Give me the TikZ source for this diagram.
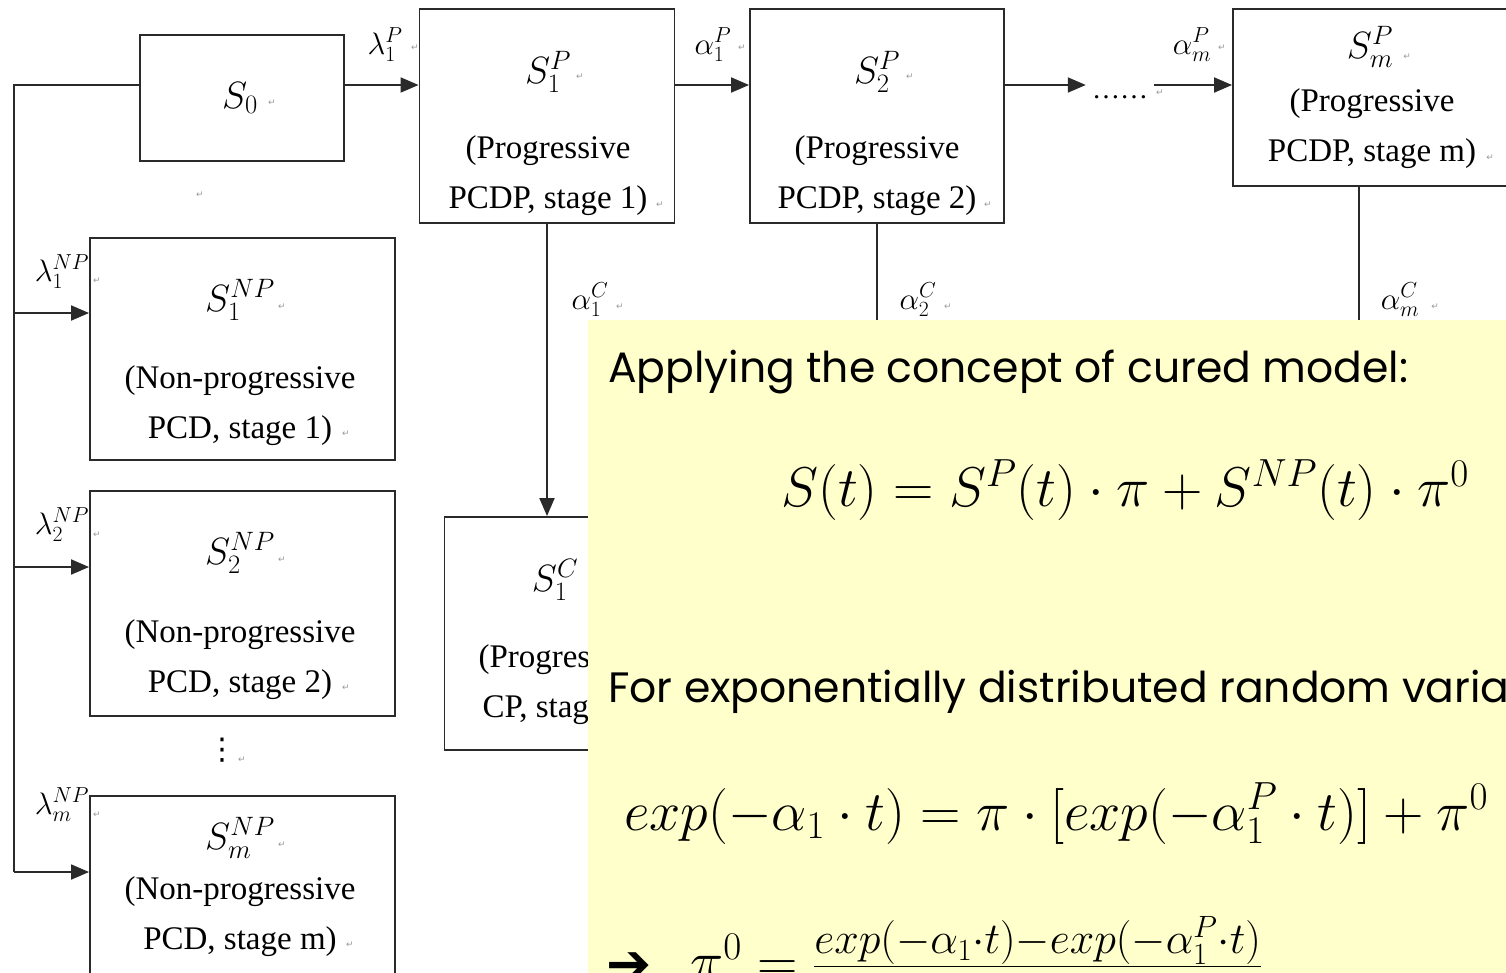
\RequirePackage{fix-cm}
\documentclass[tikz,border=0pt]{standalone}
\usepackage{amsmath}
\usepackage{fontspec}
\usetikzlibrary{arrows.meta}
\newfontfamily\diagfont{Liberation Serif}
\newfontfamily\slidefont{Poppins}
\newfontfamily\symbfont{DejaVu Sans}
\definecolor{slideyellow}{HTML}{FFFFCC}
\definecolor{boxline}{HTML}{2A2A2A}
\begin{document}
\begin{tikzpicture}[x=1pt,y=-1pt,
  stagebox/.style={draw=boxline,line width=1.9pt,inner sep=0pt},
  wire/.style={draw=boxline,line width=1.9pt},
  flow/.style={wire,-{Triangle[length=18pt,width=15pt]}},
  boxtext/.style={font=\diagfont\fontsize{33}{50}\selectfont,align=center,inner sep=0pt},
  symb/.style={font=\fontsize{38}{44}\selectfont,inner sep=0pt},
  rate/.style={font=\fontsize{31}{36}\selectfont,inner sep=0pt},
  retmark/.style={font=\symbfont\fontsize{9}{10}\selectfont,text=black!40,inner sep=0pt},
  slidetext/.style={font=\slidefont\fontsize{42.5}{48}\selectfont,anchor=base west,inner sep=0pt},
  slidemath/.style={font=\fontsize{56}{60}\selectfont,inner sep=0pt}]
\useasboundingbox (0,0) rectangle (1506,972);
\clip (0,0) rectangle (1506,972);
% progressive chain
\node[stagebox,minimum width=204pt,minimum height=126pt] (s0) at (242,98) {};
\node[stagebox,minimum width=255pt,minimum height=214pt] (s1p) at (547,116) {};
\node[stagebox,minimum width=254pt,minimum height=214pt] (s2p) at (877,116) {};
\node[stagebox,minimum width=278pt,minimum height=177pt] (smp) at (1372,97.5) {};
\node[symb] (s0lab) at (240,98) {$S_0$};
\node[symb] (s1plab) at (548,72) {$S_1^P$};
\node[boxtext] (s1ptxt) at (548,176) {(Progressive\\PCDP, stage 1)};
\node[symb] (s2plab) at (877,72) {$S_2^P$};
\node[boxtext] (s2ptxt) at (877,176) {(Progressive\\PCDP, stage 2)};
\node[symb] (smplab) at (1370,47) {$S_m^P$};
\node[boxtext] (smptxt) at (1372,129) {(Progressive\\PCDP, stage m)};
\node[font=\diagfont\fontsize{28}{30}\selectfont,inner sep=6pt] (dots) at (1120,97) {……};
\coordinate (row) at (0,85);
\draw[flow] (s0.east |- row) -- (s1p.west |- row);
\draw[flow] (s1p.east |- row) -- (s2p.west |- row);
\draw[flow] (s2p.east |- row) -- (dots.west |- row);
\draw[flow] (dots.east |- row) -- (smp.west |- row);
\node[rate] (lam1p) at (385,45) {$\lambda_1^P$};
\node[rate] (alp1p) at (713,45) {$\alpha_1^P$};
\node[rate] (alpmp) at (1192,45) {$\alpha_m^P$};
% non-progressive branch
\node[stagebox,minimum width=305pt,minimum height=222pt] (np1) at (242.5,349) {};
\node[stagebox,minimum width=305pt,minimum height=225pt] (np2) at (242.5,603.5) {};
\node[stagebox,minimum width=305pt,minimum height=220pt] (npm) at (242.5,906) {};
\node[symb] (np1lab) at (240,300) {$S_1^{NP}$};
\node[boxtext] (np1txt) at (240,406) {(Non-progressive\\PCD, stage 1)};
\node[symb] (np2lab) at (240,553) {$S_2^{NP}$};
\node[boxtext] (np2txt) at (240,660) {(Non-progressive\\PCD, stage 2)};
\node[symb] (npmlab) at (240,838) {$S_m^{NP}$};
\node[boxtext] (npmtxt) at (240,917) {(Non-progressive\\PCD, stage m)};
\node[font=\symbfont\fontsize{30}{30}\selectfont,inner sep=0pt] (vdots) at (222,750) {⋮};
\coordinate (trunk) at (14,85);
\coordinate (b1) at (14,313);
\coordinate (b2) at (14,567);
\coordinate (b3) at (14,872);
\draw[wire] (s0.west |- trunk) -- (trunk) -- (b3);
\draw[flow] (b1) -- (np1.west |- b1);
\draw[flow] (b2) -- (np2.west |- b2);
\draw[flow] (b3) -- (npm.west |- b3);
\node[rate] (lam1np) at (62,272) {$\lambda_1^{NP}$};
\node[rate] (lam2np) at (62,525) {$\lambda_2^{NP}$};
\node[rate] (lammnp) at (62,805) {$\lambda_m^{NP}$};
% cured branch
\node[stagebox,minimum width=255pt,minimum height=233pt] (s1c) at (572,633.5) {};
\node[symb] (s1clab) at (555,580) {$S_1^C$};
\node[boxtext] (s1ctxt) at (561,685) {(Progressive\\CP, stage 1)};
\draw[flow] (s1p.south) -- (s1p.south |- s1c.north);
\draw[wire] (s2p.south) -- ++(0,200);
\draw[wire] (smp.south -| 1359,0) -- ++(0,200);
\node[rate] (alp1c) at (590,300) {$\alpha_1^C$};
\node[rate] (alp2c) at (918,300) {$\alpha_2^C$};
\node[rate] (alpmc) at (1400,300) {$\alpha_m^C$};
% paragraph marks
\foreach \px/\py [count=\i] in {272/103,200/195,415/48,580/77,660/205,742/48,910/77,988/205,
  1160/93,1222/48,1407/57,1490/158,620/307,948/307,1435/307,97/281,282/307,346/434,
  97/535,282/560,346/688,242/760,97/815,282/845,350/945}
  \node[retmark] (ret\i) at (\px,\py) {↵};
% slide overlay
\node[fill=slideyellow,minimum width=1000pt,minimum height=700pt,anchor=north west,inner sep=0pt] (panel) at (588,320) {};
\node[slidetext] (intro) at (608,382) {Applying the concept of cured model:};
\node[slidemath] (cure) at (1125,490) {$S(t)=S^P(t)\cdot\pi+S^{NP}(t)\cdot\pi^0$};
\node[slidetext] (expo) at (608,702) {For exponentially distributed random variables:};
\node[slidemath,anchor=base west] (expeq) at (624,830) {$exp(-\alpha_1\cdot t)=\pi\cdot[exp(-\alpha_1^P\cdot t)]+\pi^0$};
\node[font=\symbfont\fontsize{54}{54}\selectfont,anchor=base west,inner sep=0pt] (implies) at (606,982) {➔};
\node[slidemath,anchor=base west] (pizero) at (690,980) {$\pi^0=\frac{\text{\fontsize{44}{48}\selectfont$exp(-\alpha_1{\cdot}t){-}exp(-\alpha_1^P{\cdot}t)$}}{\phantom{exp}}$};
\end{tikzpicture}
\end{document}
